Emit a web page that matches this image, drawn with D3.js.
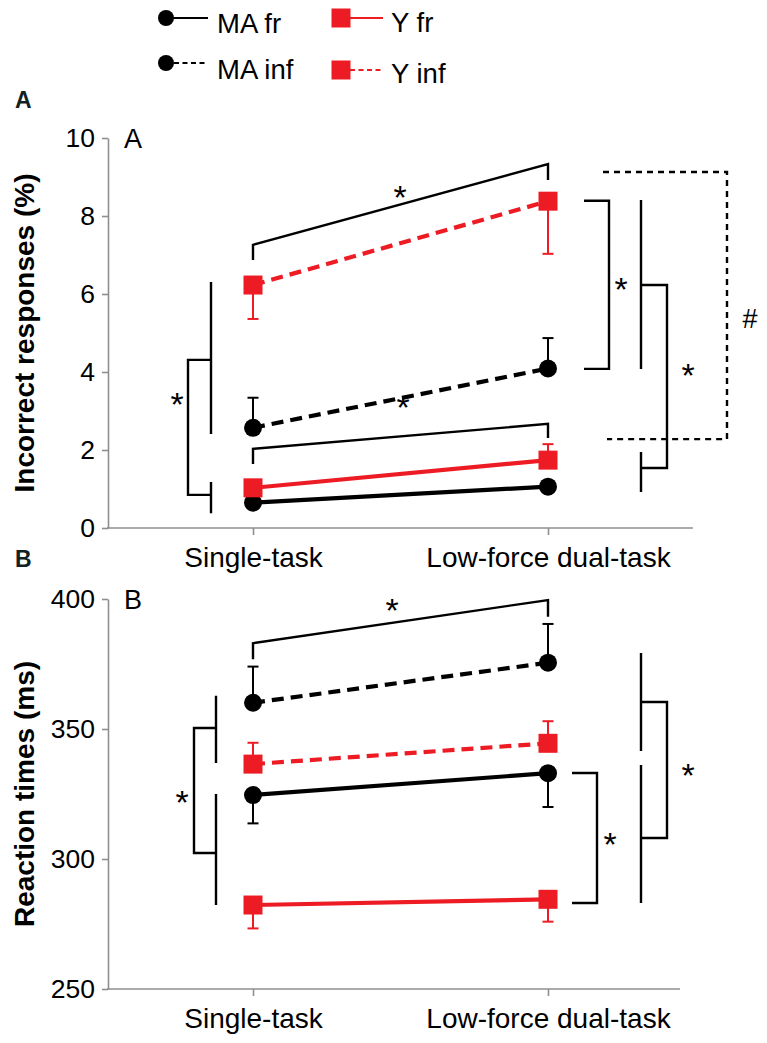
<!DOCTYPE html>
<html><head><meta charset="utf-8">
<script src="https://cdn.jsdelivr.net/npm/d3@7"></script>
<style>body{margin:0;background:#fff} svg text{font-family:"Liberation Sans",Arial,Helvetica,sans-serif}</style>
</head><body><svg id="c" width="767" height="1043"></svg>
<script>
// ---------- data ----------
const categories = ["Single-task", "Low-force dual-task"];
const seriesNames = ["MA fr", "MA inf", "Y fr", "Y inf"];

// Panel A: incorrect responses (%)
const ticksA = [0, 2, 4, 6, 8, 10];
const incorrectMAfr  = [0.65, 1.06];
const incorrectMAinf = [2.57, 4.09];
const incorrectYfr   = [1.03, 1.74];
const incorrectYinf  = [6.23, 8.38];
const incorrectErrMAfr  = [null, null];
const incorrectErrMAinf = [3.34, 4.87];
const incorrectErrYfr   = [null, 2.15];
const incorrectErrYinf  = [5.36, 7.03];

// Panel B: reaction times (ms)
const ticksB = [250, 300, 350, 400];
const rtMAfr  = [324.6, 333.0];
const rtMAinf = [360.1, 375.5];
const rtYfr   = [282.3, 284.5];
const rtYinf  = [336.5, 344.5];
const rtErrMAfr  = [313.7, 320.0];
const rtErrMAinf = [374.0, 390.4];
const rtErrYfr   = [273.3, 275.9];
const rtErrYinf  = [344.7, 353.0];

// significance annotations (values in data units)
const sigTopA   = [6.87, 7.26, 9.33, 8.92];
const sigLowA   = [1.64, 2.03, 2.67, 2.31];
const sigLeftA  = [6.31, 2.41, 1.18, 0.38, 4.31, 0.85];
const sigRightA = [8.39, 4.08];
const sigNestA  = [8.41, 4.08, 1.95, 0.92, 6.23, 1.54];
const sigHashA  = [9.13, 2.28];
const starsA = [8.67, 3.28, 3.36, 6.31, 4.10, 5.41];

const sigTopB   = [376.8, 383.0, 399.6, 393.2];
const sigLeftB  = [362.8, 336.9, 325.0, 282.3, 350.4, 302.3];
const sigRightB = [333.1, 283.1];
const sigNestB  = [379.2, 341.5, 336.2, 283.1, 360.4, 308.1];
const starsB = [398.5, 324.6, 308.5, 335.0];

// ---------- drawing ----------
const RED = "#ed1c24", BLACK = "#000", AXIS = "#8f8f8f";
const svg = d3.select("#c");
svg.append("rect").attr("width", 767).attr("height", 1043).attr("fill", "#fff");

const x = d3.scalePoint().domain(categories).range([253, 548]);

function marker(g, shape, cx, cy, color, r) {
  if (shape === "circle") g.append("circle").attr("cx", cx).attr("cy", cy).attr("r", r).attr("fill", color);
  else g.append("rect").attr("x", cx - r - 0.5).attr("y", cy - r - 0.5).attr("width", 2 * r + 1).attr("height", 2 * r + 1).attr("fill", color);
}

// legend
const leg = svg.append("g");
const legendItems = [
  {name: seriesNames[0], color: BLACK, dash: null, shape: "circle", mx: 166, my: 18, lx1: 166, lx2: 208, tx: 217, ty: 33, r: 8},
  {name: seriesNames[1], color: BLACK, dash: "5,3.5", shape: "circle", mx: 166, my: 63, lx1: 174, lx2: 208, tx: 217, ty: 79, r: 8},
  {name: seriesNames[2], color: RED, dash: null, shape: "square", mx: 341, my: 18, lx1: 341, lx2: 383, tx: 391, ty: 32, r: 9},
  {name: seriesNames[3], color: RED, dash: "5,3.5", shape: "square", mx: 341, my: 70, lx1: 350, lx2: 383, tx: 391, ty: 83, r: 9}
];
legendItems.forEach(d => {
  leg.append("line").attr("x1", d.lx1).attr("x2", d.lx2).attr("y1", d.my).attr("y2", d.my)
    .attr("stroke", d.color).attr("stroke-width", 2.2).attr("stroke-dasharray", d.dash);
  marker(leg, d.shape, d.mx, d.my, d.color, d.r);
  leg.append("text").attr("x", d.tx).attr("y", d.ty).attr("font-size", 27.5).attr("fill", "#000").text(d.name);
});

function drawPanel(cfg) {
  const g = svg.append("g");
  const y = d3.scaleLinear().domain(cfg.domain).range([cfg.bottom, cfg.top]);
  // y axis
  const ya = g.append("g").attr("transform", "translate(108,0)")
    .call(d3.axisLeft(y).tickValues(cfg.ticks).tickSize(6).tickSizeOuter(0).tickPadding(7));
  ya.select(".domain").attr("stroke", AXIS).attr("stroke-width", 1.6);
  ya.selectAll(".tick line").attr("stroke", AXIS).attr("stroke-width", 1.6);
  ya.selectAll(".tick text").attr("font-size", 26.5).attr("fill", "#000").attr("font-family", "Liberation Sans, Arial, sans-serif");
  // x axis
  const xa = g.append("g").attr("transform", `translate(0,${cfg.bottom})`)
    .call(d3.axisBottom(x).tickSize(7).tickSizeOuter(0).tickPadding(12));
  xa.select(".domain").attr("d", `M107,0H${cfg.axisRight}`).attr("stroke", AXIS).attr("stroke-width", 1.6);
  xa.selectAll(".tick line").attr("stroke", AXIS).attr("stroke-width", 1.6);
  xa.selectAll(".tick text").attr("font-size", 28).attr("fill", "#000").attr("font-family", "Liberation Sans, Arial, sans-serif");
  // titles
  g.append("text").attr("transform", `translate(34,${(cfg.top + cfg.bottom) / 2}) rotate(-90)`)
    .attr("text-anchor", "middle").attr("font-size", 28).attr("font-weight", "bold").text(cfg.title);
  g.append("text").attr("x", 15).attr("y", cfg.letterY).attr("font-size", 23).attr("font-weight", "bold").attr("fill", "#112222").text(cfg.letter);
  g.append("text").attr("x", 124).attr("y", cfg.top + 10).attr("font-size", 27).text(cfg.letter);

  // series
  cfg.series.forEach(s => {
    const pts = categories.map((c, i) => [x(c), y(s.values[i])]);
    g.append("path").attr("d", d3.line()(pts)).attr("fill", "none").attr("stroke", s.color)
      .attr("stroke-width", 4.2).attr("stroke-dasharray", s.dashed ? "12,7" : null);
  });
  cfg.series.forEach(s => {
    categories.forEach((c, i) => {
      const e = s.err[i];
      if (e == null) return;
      const cx = x(c);
      g.append("line").attr("x1", cx).attr("x2", cx).attr("y1", y(s.values[i])).attr("y2", y(e)).attr("stroke", s.color).attr("stroke-width", 2);
      g.append("line").attr("x1", cx - 5.5).attr("x2", cx + 5.5).attr("y1", y(e)).attr("y2", y(e)).attr("stroke", s.color).attr("stroke-width", 2);
    });
  });
  cfg.series.forEach(s => {
    categories.forEach((c, i) => marker(g, s.shape, x(c), y(s.values[i]), s.color, 9));
  });

  // significance brackets
  const br = g.append("g").attr("fill", "none").attr("stroke", "#000").attr("stroke-width", 2.4);
  const x0 = x(categories[0]), x1 = x(categories[1]);
  const star = (sx, v, ch) => g.append("text").attr("x", sx).attr("y", y(v) + (ch === "#" ? 11 : 19))
    .attr("text-anchor", "middle").attr("font-size", ch === "#" ? 27 : 34).text(ch || "*");
  cfg.tops.forEach(t => {
    br.append("path").attr("d", `M${x0},${y(t[0])}V${y(t[1])}L${x1},${y(t[2])}V${y(t[3])}`);
  });
  const L = cfg.left;
  br.append("path").attr("d",
    `M${cfg.leftX[0]},${y(L[0])}V${y(L[1])}M${cfg.leftX[0]},${y(L[2])}V${y(L[3])}` +
    `M${cfg.leftX[0]},${y(L[4])}H${cfg.leftX[1]}V${y(L[5])}H${cfg.leftX[0]}`);
  const R = cfg.right;
  br.append("path").attr("d", `M${cfg.rightX[0]},${y(R[0])}H${cfg.rightX[1]}V${y(R[1])}H${cfg.rightX[0]}`);
  const N = cfg.nest;
  br.append("path").attr("d",
    `M641,${y(N[0])}V${y(N[1])}M641,${y(N[2])}V${y(N[3])}M641,${y(N[4])}H667V${y(N[5])}H641`);
  if (cfg.hash) {
    br.append("path").attr("d", `M603,${y(cfg.hash[0])}H727V${y(cfg.hash[1])}H607`).attr("stroke-dasharray", "6,5");
  }
  cfg.stars.forEach(s => star(s[0], s[1], s[2]));
}

drawPanel({
  domain: [0, 10], top: 138, bottom: 528, axisRight: 693, ticks: ticksA,
  title: "Incorrect responses (%)", letter: "A", letterY: 108,
  series: [
    {values: incorrectMAfr, err: incorrectErrMAfr, color: BLACK, dashed: false, shape: "circle"},
    {values: incorrectYfr, err: incorrectErrYfr, color: RED, dashed: false, shape: "square"},
    {values: incorrectMAinf, err: incorrectErrMAinf, color: BLACK, dashed: true, shape: "circle"},
    {values: incorrectYinf, err: incorrectErrYinf, color: RED, dashed: true, shape: "square"}
  ],
  tops: [sigTopA, sigLowA],
  left: sigLeftA, leftX: [211, 188],
  right: sigRightA, rightX: [584, 609],
  nest: sigNestA, hash: sigHashA,
  stars: [[400, starsA[0]], [403, starsA[1]], [177, starsA[2]], [621, starsA[3]], [688, starsA[4]], [750, starsA[5], "#"]]
});

drawPanel({
  domain: [250, 400], top: 599, bottom: 989, axisRight: 680, ticks: ticksB,
  title: "Reaction times (ms)", letter: "B", letterY: 567,
  series: [
    {values: rtYfr, err: rtErrYfr, color: RED, dashed: false, shape: "square"},
    {values: rtMAfr, err: rtErrMAfr, color: BLACK, dashed: false, shape: "circle"},
    {values: rtYinf, err: rtErrYinf, color: RED, dashed: true, shape: "square"},
    {values: rtMAinf, err: rtErrMAinf, color: BLACK, dashed: true, shape: "circle"}
  ],
  tops: [sigTopB],
  left: sigLeftB, leftX: [216, 194],
  right: sigRightB, rightX: [572, 597],
  nest: sigNestB, hash: null,
  stars: [[392, starsB[0]], [182, starsB[1]], [610, starsB[2]], [688, starsB[3]]]
});
</script></body></html>
